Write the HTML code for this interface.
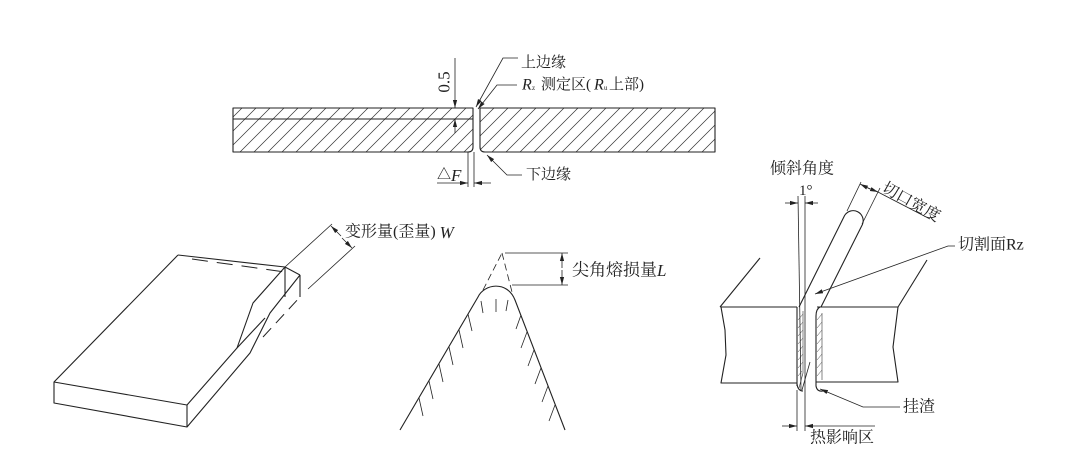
<!DOCTYPE html>
<html><head><meta charset="utf-8"><style>
html,body{margin:0;padding:0;background:#fff;}
svg{display:block}
text{font-family:"Liberation Serif","Noto Serif CJK SC","Noto Sans CJK SC",serif;fill:#222;}
</style></head><body>
<svg width="1080" height="462" viewBox="0 0 1080 462" xmlns="http://www.w3.org/2000/svg">
<defs>
<pattern id="h" patternUnits="userSpaceOnUse" width="14" height="14">
<line x1="0" y1="14" x2="14" y2="0" stroke="#333" stroke-width="0.7"/>
<line x1="-2" y1="2" x2="2" y2="-2" stroke="#333" stroke-width="0.7"/>
<line x1="12" y1="16" x2="16" y2="12" stroke="#333" stroke-width="0.7"/>
</pattern>
<marker id="a" markerWidth="8" markerHeight="6" refX="8" refY="3" orient="auto" markerUnits="userSpaceOnUse"><path d="M0,0.9 L8,3 L0,5.1 Z" fill="#222"/></marker>
</defs>

<g fill="none" stroke="#222" stroke-width="1.1" stroke-linejoin="round">
<path d="M233,108 H473 V147 Q473,152 468,152 H233 Z" fill="url(#h)"/>
<line x1="233" y1="119" x2="473" y2="119"/>
<path d="M480,108 H715 V152 H485 Q480,152 480,147 Z" fill="url(#h)"/>
</g>

<g fill="none" stroke="#222" stroke-width="0.8">
<line x1="455" y1="58" x2="455" y2="108" marker-end="url(#a)"/>
<line x1="455" y1="133" x2="455" y2="119" marker-end="url(#a)"/>
<polyline points="518,58 503,58 476,107" marker-end="url(#a)"/>
<polyline points="517,85 497,85 478,109" marker-end="url(#a)"/>
<polyline points="522,175 507,175 487,155" marker-end="url(#a)"/>
<line x1="468" y1="152" x2="468" y2="187"/>
<line x1="474" y1="152" x2="474" y2="187"/>
<line x1="437" y1="183" x2="468" y2="183" marker-end="url(#a)"/>
<line x1="491" y1="183" x2="474" y2="183" marker-end="url(#a)"/>
</g>

<text transform="translate(444,82) rotate(-90)" text-anchor="middle" dominant-baseline="central" font-size="17">0.5</text>
<text x="521" y="63" dominant-baseline="central" font-size="15">上边缘</text>
<g font-size="15">
<text x="522" y="85" dominant-baseline="central" font-style="italic" font-size="16">R</text>
<text x="532" y="88" dominant-baseline="central" font-size="7">z</text>
<text x="541" y="85" dominant-baseline="central">测定区</text>
<text x="586" y="85" dominant-baseline="central">(</text>
<text x="594" y="85" dominant-baseline="central" font-style="italic" font-size="16">R</text>
<text x="604" y="88" dominant-baseline="central" font-size="7">u</text>
<text x="609" y="85" dominant-baseline="central">上部)</text>
</g>
<text x="526" y="175" dominant-baseline="central" font-size="15">下边缘</text>
<text x="437" y="175" dominant-baseline="central" font-size="16"><tspan font-size="14">△</tspan><tspan font-style="italic" font-size="17">F</tspan></text>

<!-- LEFT BLOCK -->
<g fill="none" stroke="#222" stroke-width="1.1" stroke-linejoin="round">
<polygon points="54,382 187,405 187,427 54,403"/>
<line x1="54" y1="382" x2="178" y2="255"/>
<line x1="178" y1="255" x2="285" y2="267"/>
<polyline points="187,405 237,348 253,303 285,267"/>
<polyline points="187,427 250,353 270,313 300,275"/>
<line x1="285" y1="267" x2="300" y2="275"/>
<line x1="285" y1="267" x2="285" y2="297"/>
<line x1="300" y1="275" x2="300" y2="297"/>
<line x1="237" y1="348" x2="265" y2="318"/>
</g>
<g fill="none" stroke="#222" stroke-width="1">
<line x1="192" y1="259" x2="285" y2="272" stroke-dasharray="16,9"/>
<line x1="263" y1="337" x2="300" y2="297" stroke-dasharray="12,7"/>
</g>
<g fill="none" stroke="#222" stroke-width="0.8">
<line x1="285" y1="267" x2="332" y2="224"/>
<line x1="308" y1="289" x2="355" y2="246"/>
<line x1="341" y1="236" x2="331" y2="226" marker-end="url(#a)"/>
<line x1="342" y1="238" x2="352" y2="248" marker-end="url(#a)"/>
</g>
<text x="345" y="232" dominant-baseline="central" font-size="16">变形量(歪量) <tspan font-style="italic" font-size="17">W</tspan></text>

<!-- MIDDLE FIGURE -->
<g fill="none" stroke="#222" stroke-width="1.1">
<path d="M400,430 L478,297 C484,284 507,280 515,300 L565,430"/>
</g>
<g fill="none" stroke="#222" stroke-width="0.8">
<line x1="483" y1="290" x2="502" y2="253" stroke-dasharray="7,4"/>
<line x1="502" y1="253" x2="512" y2="292" stroke-dasharray="7,4"/>
<line x1="505" y1="253" x2="568" y2="253"/>
<line x1="512" y1="285" x2="568" y2="285"/>
<line x1="562" y1="268" x2="562" y2="253" marker-end="url(#a)"/>
<line x1="562" y1="270" x2="562" y2="285" marker-end="url(#a)"/>
<line x1="419" y1="398" x2="423" y2="416"/>
<line x1="429" y1="381" x2="433" y2="399"/>
<line x1="439" y1="364" x2="443" y2="382"/>
<line x1="449" y1="347" x2="453" y2="365"/>
<line x1="459" y1="330" x2="463" y2="348"/>
<line x1="468" y1="314" x2="472" y2="331"/>
<line x1="481" y1="301" x2="483" y2="313"/>
<line x1="496" y1="299" x2="496" y2="312"/>
<line x1="508" y1="300" x2="506" y2="311"/>
<line x1="521" y1="315" x2="516" y2="329"/>
<line x1="527" y1="332" x2="521" y2="348"/>
<line x1="534" y1="350" x2="528" y2="366"/>
<line x1="541" y1="368" x2="535" y2="384"/>
<line x1="548" y1="386" x2="542" y2="402"/>
<line x1="555" y1="405" x2="549" y2="421"/>
</g>
<text x="572" y="270" dominant-baseline="central" font-size="17">尖角熔损量<tspan font-style="italic">L</tspan></text>

<!-- RIGHT FIGURE -->
<g fill="none" stroke="#222" stroke-width="1.1" stroke-linejoin="round">
<line x1="720" y1="307" x2="760" y2="258"/>
<polyline points="797,307 721,307 725,330 726,355 721,383 797,383"/>
<line x1="797" y1="307" x2="797" y2="386"/>
<path d="M797,384 Q798,391 803,391"/>
<polyline points="817,307 898,307 893,347 898,382 816,382"/>
<line x1="898" y1="307" x2="927" y2="260"/>
<path d="M820,307 Q816,309 816,316 L816,386 Q817,392 823,391"/>
<path d="M799,307 L844.6,215.5 A10,10 0 0 1 862.4,224.5 L821,307"/>
</g>
<g fill="none" stroke="#333" stroke-width="0.6">
<line x1="803" y1="311" x2="803" y2="373"/>
<line x1="803" y1="373" x2="799" y2="388"/>
<line x1="822" y1="313" x2="822" y2="380"/>
</g>
<g fill="none" stroke="#444" stroke-width="0.5">
<line x1="798" y1="320" x2="803" y2="314"/><line x1="798" y1="328" x2="803" y2="322"/>
<line x1="798" y1="336" x2="803" y2="330"/><line x1="798" y1="344" x2="803" y2="338"/>
<line x1="798" y1="352" x2="803" y2="346"/><line x1="798" y1="360" x2="803" y2="354"/>
<line x1="798" y1="368" x2="803" y2="362"/><line x1="798" y1="376" x2="802" y2="371"/>
<line x1="817" y1="320" x2="822" y2="314"/><line x1="817" y1="328" x2="822" y2="322"/>
<line x1="817" y1="336" x2="822" y2="330"/><line x1="817" y1="344" x2="822" y2="338"/>
<line x1="817" y1="352" x2="822" y2="346"/><line x1="817" y1="360" x2="822" y2="354"/>
<line x1="817" y1="368" x2="822" y2="362"/><line x1="817" y1="376" x2="822" y2="370"/>
</g>
<g fill="none" stroke="#222" stroke-width="0.8">
<line x1="805" y1="196" x2="805" y2="431"/>
<line x1="798" y1="196" x2="801" y2="390"/>
<line x1="797" y1="390" x2="797" y2="431"/>
<line x1="802" y1="390" x2="810" y2="362"/>
<line x1="785" y1="203" x2="798" y2="203" marker-end="url(#a)"/>
<line x1="818" y1="203" x2="805" y2="203" marker-end="url(#a)"/>
<line x1="782" y1="426" x2="797" y2="426" marker-end="url(#a)"/>
<line x1="875" y1="426" x2="805" y2="426" marker-end="url(#a)"/>
<line x1="847" y1="211" x2="861" y2="182"/>
<line x1="862" y1="224" x2="880" y2="188"/>
<line x1="870" y1="189" x2="860" y2="184" marker-end="url(#a)"/>
<line x1="868" y1="188" x2="878" y2="192" marker-end="url(#a)"/>
<line x1="876" y1="191" x2="930" y2="219"/>
<polyline points="955,246 948,246 815,294" marker-end="url(#a)"/>
<polyline points="900,407 863,407 820,389" marker-end="url(#a)"/>
</g>
<text x="770" y="169" dominant-baseline="central" font-size="16">倾斜角度</text>
<text x="799" y="191" dominant-baseline="central" font-size="15">1°</text>
<text transform="translate(883,187) rotate(29)" dominant-baseline="central" font-size="16">切口宽度</text>
<text x="958" y="245" dominant-baseline="central" font-size="16">切割面Rz</text>
<text x="903" y="407" dominant-baseline="central" font-size="16">挂渣</text>
<text x="810" y="438" dominant-baseline="central" font-size="16">热影响区</text>
</svg>
</body></html>
